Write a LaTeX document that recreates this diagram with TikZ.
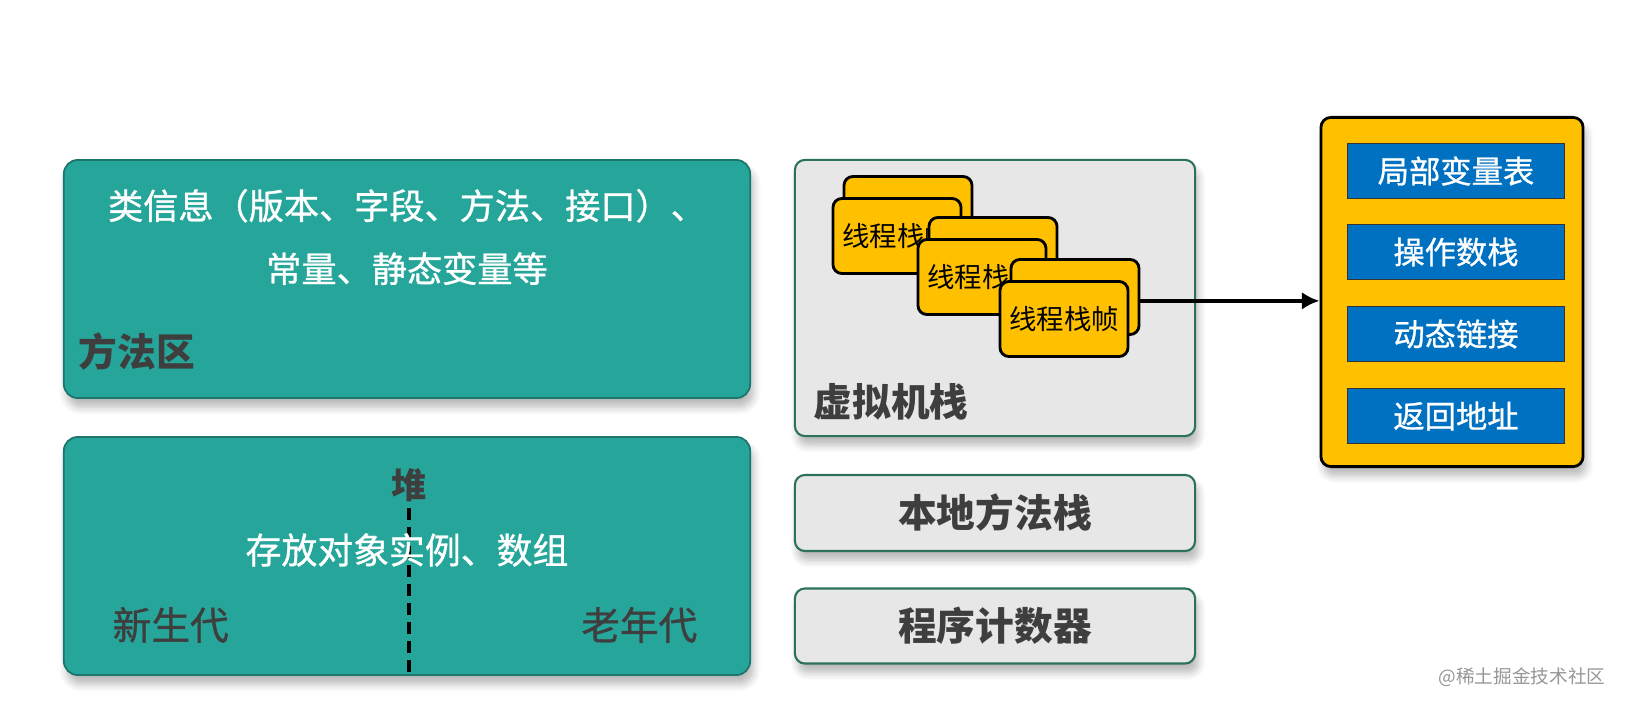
\documentclass[tikz,border=0pt]{standalone}
\usepackage{fontspec}
\usepackage{tikz}
\usetikzlibrary{arrows.meta,positioning,shadows.blur}
\setmainfont{Noto Sans CJK SC}
\newfontfamily\medcjk{Noto Sans CJK SC}[FakeBold=0.9]
\definecolor{jvTeal}{RGB}{38,166,154}
\definecolor{jvTealLine}{RGB}{28,118,110}
\definecolor{jvGrey}{RGB}{231,231,231}
\definecolor{jvGreyLine}{RGB}{44,112,94}
\definecolor{jvGold}{RGB}{255,192,0}
\definecolor{jvBlue}{RGB}{0,112,192}
\definecolor{jvInk}{RGB}{62,62,62}
\definecolor{jvMark}{RGB}{150,150,150}
\tikzset{
  boxshade/.style={blur shadow={shadow xshift=0.3mm, shadow yshift=-0.9mm, shadow blur steps=6, shadow opacity=28}},
  tealbox/.style={fill=jvTeal, draw=jvTealLine, line width=0.5pt, rounded corners=0.14cm, boxshade},
  greybox/.style={fill=jvGrey, draw=jvGreyLine, line width=0.6pt, rounded corners=0.1cm, boxshade},
  framecard/.style={fill=jvGold, draw=black, line width=0.8pt, rounded corners=0.09cm,
    minimum width=1.28cm, minimum height=0.75cm, inner sep=0pt,
    font=\fontsize{7.8pt}{9pt}\selectfont},
  slotbox/.style={fill=jvBlue, draw=black!80, line width=0.4pt, minimum width=2.17cm,
    minimum height=0.55cm, inner sep=0pt, text=white, font=\fontsize{8.9pt}{10pt}\medcjk},
  biglabel/.style={inner sep=0pt, text=jvInk, font=\fontsize{11pt}{13pt}\selectfont\bfseries},
  whitetext/.style={inner sep=0pt, text=white, align=center},
}

\begin{document}
\begin{tikzpicture}[x=0.01cm,y=-0.01cm]
  \useasboundingbox (0,0) rectangle (1626,706);
  % method area
  \node[tealbox, minimum width=6.86cm, minimum height=2.38cm] (method) at (407,279) {};
  \node[whitetext, font=\fontsize{10pt}{17.9pt}\medcjk] (methodinfo) at (407,237)
    {类信息（版本、字段、方法、接口）、\\常量、静态变量等};
  \node[biglabel, anchor=west] (methodlbl) at (78,352) {方法区};
  % heap
  \node[tealbox, minimum width=6.86cm, minimum height=2.38cm] (heap) at (407,556) {};
  \node[biglabel, font=\fontsize{10pt}{12pt}\selectfont\bfseries] (heaplbl) at (409,485) {堆};
  \draw[line width=1.4pt, dash pattern=on 3.6pt off 1.8pt] ([yshift=-1.5pt]heaplbl.south) -- (heaplbl.south |- heap.south);
  \node[whitetext, font=\fontsize{10.2pt}{12pt}\medcjk] (heapinfo) at (407,550) {存放对象实例、数组};
  \node[biglabel, font=\fontsize{11pt}{13pt}\medcjk, anchor=west] (younggen) at (112,625) {新生代};
  \node[biglabel, font=\fontsize{11pt}{13pt}\medcjk, anchor=east] (oldgen) at (698,625) {老年代};
  % vm stack
  \node[greybox, minimum width=4.0cm, minimum height=2.76cm] (vmstack) at (995,298) {};
  \node[biglabel, anchor=west] (vmlbl) at (813,402) {虚拟机栈};
  \node[framecard] (tf1b) at (908,214) {};
  \node[framecard] (tf1) at (897,236) {线程栈帧};
  \node[framecard] (tf2b) at (993,255) {};
  \node[framecard] (tf2) at (982,277) {线程栈帧};
  \node[framecard] (tf3b) at (1075,297) {};
  \node[framecard] (tf3) at (1064,319) {线程栈帧};
  % native stack and pc
  \node[greybox, minimum width=4.0cm, minimum height=0.76cm, biglabel] (native) at (995,513) {本地方法栈};
  \node[greybox, minimum width=4.0cm, minimum height=0.75cm, biglabel] (pcount) at (995,626) {程序计数器};
  % frame contents
  \node[fill=jvGold, draw=black, line width=0.8pt, rounded corners=0.1cm, minimum width=2.62cm,
    minimum height=3.49cm, boxshade] (frame) at (1452,292) {};
  \node[slotbox] (locals) at (1456,171) {局部变量表};
  \node[slotbox] (operand) at (1456,252) {操作数栈};
  \node[slotbox] (dynlink) at (1456,334) {动态链接};
  \node[slotbox] (retaddr) at (1456,416) {返回地址};
  \coordinate (arrowstart) at ([yshift=-1.1pt]tf3b.east);
  \draw[line width=1.2pt, -{Latex[length=5pt,width=5pt]}] (arrowstart) -- (arrowstart -| frame.west);
  \node[inner sep=0pt, text=jvMark, font=\fontsize{5.3pt}{6pt}\selectfont, anchor=east] (mark) at (1606,677) {@稀土掘金技术社区};
\end{tikzpicture}
\end{document}
